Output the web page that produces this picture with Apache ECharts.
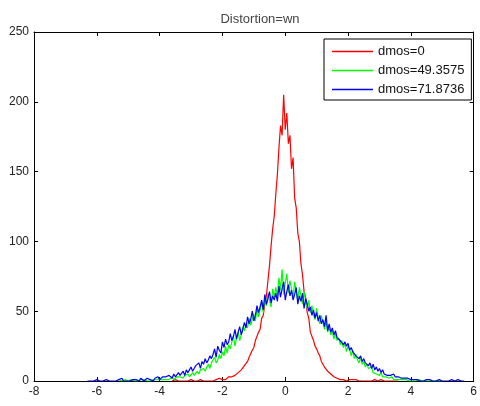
<!DOCTYPE html>
<html>
<head>
<meta charset="utf-8">
<script src="https://cdn.jsdelivr.net/npm/echarts@6/dist/echarts.min.js"></script>
<style>html,body{margin:0;padding:0;background:#fff}#c{width:480px;height:406px}</style>
</head>
<body>
<div id="c"></div>
<script>
// Histogram bin step and first bin centre per series
const BIN_STEP = 0.05;
const redStart = -3.6;
const greenStart = -5.3;
const blueStart = -6.3;
const seriesNames = ['dmos=0', 'dmos=49.3575', 'dmos=71.8736'];
const xTicks = [-8, -6, -4, -2, 0, 2, 4, 6];
const yTicks = [0, 50, 100, 150, 200, 250];

const redValues = [
  0,0,1,0,0,0,0,1,0,0,
  0,0,1,0,0,1,0,0,1,0,
  0,1,0,1,0,1,0,1,1,0,
  2,1,1,2,1,2,3,2,3,3,
  4,5,6,5,8,9,11,10,14,17,
  18,22,24,29,30,35,37,45,47,55,
  61,72,83,97,109,118,134,148,167,183,
  176,205,180,192,170,176,152,160,131,124,
  106,100,84,76,64,60,49,45,35,34,
  29,25,23,20,18,14,15,10,11,7,
  8,5,6,3,4,2,3,1,2,1,
  2,0,1,1,0,1,0,1,0,0,
  1,0,0,0,1,0,0,0,0,1,
  0,0,0,1,0,0,0,0,0,0,
  1,0,0,0,0
];

const greenValues = [
  1,0,0,0,1,0,0,0,1,0,
  0,1,0,0,1,0,1,0,0,1,
  0,1,1,0,1,2,1,0,1,2,
  1,2,1,2,3,1,2,3,2,3,
  3,2,4,3,5,3,4,6,4,5,
  7,5,8,7,9,7,10,12,9,13,
  12,17,13,15,19,16,21,18,25,20,
  26,23,28,32,25,31,35,29,33,39,
  36,41,38,45,40,39,48,43,52,46,
  51,57,49,60,54,63,58,53,66,60,
  67,61,74,65,80,62,70,77,63,72,
  66,60,71,64,58,67,61,55,64,57,
  52,58,49,54,47,44,52,45,41,47,
  42,37,44,35,39,33,36,30,34,29,
  31,26,29,24,27,21,25,23,18,22,
  16,19,15,13,17,12,14,10,12,9,
  8,10,6,7,5,6,4,6,3,4,
  3,4,2,2,3,1,2,1,2,1,
  1,1,0,1,1,0,1,0,1,0,
  0,1,0,0,1,0,0,0,1,0,
  0,0,1,0,0,0,0
];

const blueValues = [
  0,1,0,0,0,0,1,0,0,0,
  0,0,1,0,0,0,0,1,0,0,
  1,0,2,0,1,0,1,0,0,1,
  0,1,1,0,2,1,0,1,2,1,
  1,2,0,2,1,3,1,2,3,2,
  3,2,4,3,2,5,3,4,6,4,
  5,7,4,8,6,7,10,7,9,11,
  10,13,9,14,12,16,13,15,18,16,
  19,23,17,25,22,20,28,24,30,26,
  28,34,29,32,37,30,35,39,33,37,
  42,38,46,41,44,50,43,47,54,49,
  53,58,51,62,55,59,64,56,61,58,
  63,57,68,60,66,71,58,64,69,61,
  65,58,62,67,55,61,57,63,52,59,
  55,50,53,47,51,45,49,43,47,41,
  44,39,47,36,41,35,38,33,36,31,
  32,29,30,26,28,25,27,22,24,21,
  21,18,19,16,18,14,16,13,14,11,
  13,9,12,8,10,7,9,6,8,5,
  6,4,5,4,3,5,3,2,3,2,
  2,1,2,1,2,1,1,2,1,0,
  1,1,0,1,0,1,1,0,1,0,
  0,1,0,0,1,0,0,1,0,0,
  0,0,1,0,0,0,1,0,0,0,
  0
];

function toPairs(start, vals) {
  return vals.map((v, i) => [+(start + i * BIN_STEP).toFixed(3), v]);
}

const FONT = '"Liberation Sans", Arial, sans-serif';
const chart = echarts.init(document.getElementById('c'), null, {renderer: 'canvas'});

const axisCommon = {
  type: 'value',
  axisLine: {show: true, onZero: false, lineStyle: {color: '#000', width: 1}},
  axisTick: {show: true, inside: true, length: 4, lineStyle: {color: '#000'}},
  splitLine: {show: false}
};

const lineColors = ['#ff0000', '#00ff00', '#0000ff'];

chart.setOption({
  animation: false,
  backgroundColor: '#fff',
  title: {
    text: 'Distortion=wn',
    left: 255,
    top: 8,
    textAlign: 'center',
    textStyle: {fontFamily: FONT, fontSize: 13, fontWeight: 'normal', color: '#444'}
  },
  legend: {
    data: seriesNames.map((n, i) => ({name: n, icon: 'rect', itemStyle: {color: lineColors[i]}})),
    orient: 'vertical',
    left: 324,
    top: 39,
    padding: [5, 7, 3, 8],
    itemWidth: 41,
    itemHeight: 1.5,
    itemGap: 4,
    borderColor: '#000',
    borderWidth: 1,
    backgroundColor: '#fff',
    textStyle: {fontFamily: FONT, fontSize: 13, color: '#111', lineHeight: 15}
  },
  grid: {left: 34, right: 3, top: 32, bottom: 25, containLabel: false},
  xAxis: [
    Object.assign({}, axisCommon, {
      position: 'bottom', min: xTicks[0], max: xTicks[xTicks.length - 1], interval: 2,
      axisLabel: {show: true, margin: 5, fontFamily: FONT, fontSize: 12, color: '#222'}
    }),
    Object.assign({}, axisCommon, {
      position: 'top', min: xTicks[0], max: xTicks[xTicks.length - 1], interval: 2,
      axisLabel: {show: false}
    })
  ],
  yAxis: [
    Object.assign({}, axisCommon, {
      position: 'left', min: yTicks[0], max: yTicks[yTicks.length - 1], interval: 50,
      axisLabel: {show: true, margin: 5, fontFamily: FONT, fontSize: 12, color: '#222'}
    }),
    Object.assign({}, axisCommon, {
      position: 'right', min: yTicks[0], max: yTicks[yTicks.length - 1], interval: 50,
      axisLabel: {show: false}
    })
  ],
  series: [
    {name: seriesNames[0], type: 'line', data: toPairs(redStart, redValues), showSymbol: false, symbol: 'none',
     lineStyle: {color: lineColors[0], width: 1.2}, itemStyle: {color: lineColors[0]}, z: 2},
    {name: seriesNames[1], type: 'line', data: toPairs(greenStart, greenValues), showSymbol: false, symbol: 'none',
     lineStyle: {color: lineColors[1], width: 1.2}, itemStyle: {color: lineColors[1]}, z: 3},
    {name: seriesNames[2], type: 'line', data: toPairs(blueStart, blueValues), showSymbol: false, symbol: 'none',
     lineStyle: {color: lineColors[2], width: 1.2}, itemStyle: {color: lineColors[2]}, z: 4}
  ]
});
</script>
</body>
</html>
